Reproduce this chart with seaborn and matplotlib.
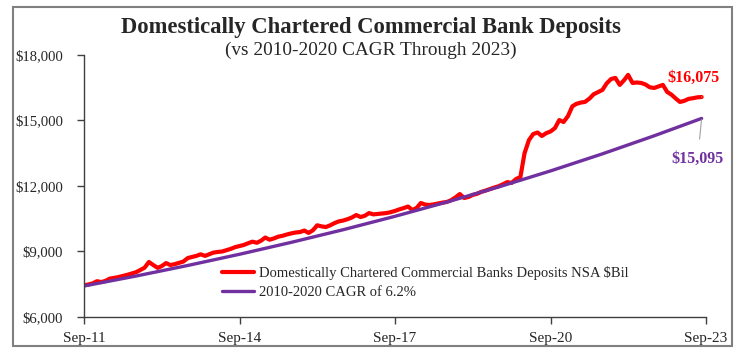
import numpy as np
import pandas as pd
import matplotlib
matplotlib.use("Agg")
import matplotlib.pyplot as plt
import matplotlib.dates as mdates
import matplotlib.ticker as mticker
from matplotlib.patches import Rectangle
import seaborn as sns

# monthly readings, Sep-2011 .. Aug-2023 ($Bil)
dep_dates = pd.date_range("2011-09-01", "2023-08-01", freq="MS")
deposits = [
    7450, 7490, 7540, 7640, 7600, 7660, 7760, 7790, 7830, 7880, 7930, 7990,
    8050, 8150, 8260, 8520, 8380, 8250, 8330, 8470, 8380, 8420, 8480, 8540,
    8700, 8750, 8800, 8870, 8800, 8880, 8950, 8980, 9000, 9060, 9120, 9200,
    9250, 9300, 9380, 9450, 9400, 9500, 9640, 9540, 9600, 9680, 9720, 9780,
    9830, 9870, 9890, 9960, 9850, 9980, 10200, 10150, 10120, 10200, 10300, 10380,
    10420, 10480, 10560, 10670, 10580, 10640, 10760, 10700, 10720, 10740, 10760, 10800,
    10860, 10930, 10990, 11060, 10900, 11000, 11220, 11150, 11130, 11160, 11200, 11240,
    11270, 11350, 11480, 11630, 11450, 11500, 11590, 11640, 11730, 11790, 11860, 11930,
    11990, 12080, 12180, 12140, 12320, 12410, 13500, 14100, 14380, 14450, 14290, 14420,
    14500, 14650, 15020, 14930, 15200, 15650, 15760, 15820, 15850, 16000, 16200, 16300,
    16400, 16700, 16900, 16950, 16630, 16850, 17090, 16720, 16740, 16720, 16650, 16520,
    16490, 16560, 16630, 16310, 16180, 16000, 15850, 15900, 15990, 16020, 16060, 16075,
]

# 2010-2020 CAGR trend line, read at each September
cagr_dates = pd.to_datetime([
    "2011-09-01", "2012-09-01", "2013-09-01", "2014-09-01", "2015-09-01",
    "2016-09-01", "2017-09-01", "2018-09-01", "2019-09-01", "2020-09-01",
    "2021-09-01", "2022-09-01", "2023-08-01",
])
cagr_line = [7420, 7876, 8360, 8874, 9420, 9999, 10613, 11265, 11957, 12692,
             13472, 14300, 15095]

dep_label = "Domestically Chartered Commercial Banks Deposits NSA $Bil"
cagr_label = "2010-2020 CAGR of 6.2%"

df_dep = pd.DataFrame({"date": dep_dates, "value": deposits})
df_cagr = pd.DataFrame({"date": cagr_dates, "value": cagr_line})

sns.set_style("white")
serif = ["Liberation Serif", "DejaVu Serif"]
plt.rcParams["font.family"] = serif

RED = "#FF0000"
PURPLE = "#7030A0"

fig = plt.figure(figsize=(7.41, 3.62), dpi=100)
ax = fig.add_axes([0.1134, 0.1243, 0.8394, 0.7238])

sns.lineplot(data=df_dep, x="date", y="value", color=RED, lw=3.0, ax=ax, label=dep_label)
sns.lineplot(data=df_cagr, x="date", y="value", color=PURPLE, lw=2.4, ax=ax, label=cagr_label)

ax.set_xlim(pd.Timestamp("2011-09-01"), pd.Timestamp("2023-09-01"))
ax.set_ylim(6000, 18000)
ax.set_yticks(np.arange(6000, 18001, 3000))
ax.yaxis.set_major_formatter(mticker.FuncFormatter(lambda v, p: f"${v:,.0f}"))
ax.set_xticks(pd.to_datetime(["2011-09-01", "2014-09-01", "2017-09-01",
                              "2020-09-01", "2023-09-01"]))
ax.xaxis.set_major_formatter(mdates.DateFormatter("%b-%y"))
ax.set_xlabel("")
ax.set_ylabel("")
for s in ["top", "right"]:
    ax.spines[s].set_visible(False)
for s in ["left", "bottom"]:
    ax.spines[s].set_color("#404040")
    ax.spines[s].set_linewidth(1.0)
ax.tick_params(axis="both", direction="out", length=5, width=1, color="#404040",
               labelsize=11, left=True, bottom=True)
ax.tick_params(axis="y", pad=10, labelsize=10.6)
ax.tick_params(axis="x", pad=6)

leg = ax.legend(loc="lower left", bbox_to_anchor=(0.2, 0.02), frameon=False,
                fontsize=10.5, handlelength=2.2, handletextpad=0.4, labelspacing=0.35)

# end labels with leader lines
ax.annotate("$16,075", xy=(dep_dates[-1], deposits[-1]), xytext=(pd.Timestamp("2022-12-01"), 16950),
            color=RED, fontsize=11.5, fontweight="bold", ha="left", va="center",
            arrowprops=dict(arrowstyle="-", color="#A0A0A0", lw=0.8, shrinkA=6, shrinkB=1))
ax.annotate("$15,095", xy=(cagr_dates[-1], cagr_line[-1]), xytext=(pd.Timestamp("2023-01-01"), 13250),
            color=PURPLE, fontsize=11.5, fontweight="bold", ha="left", va="center",
            arrowprops=dict(arrowstyle="-", color="#A0A0A0", lw=0.8, shrinkA=6, shrinkB=1))

fig.text(0.5, 0.925, "Domestically Chartered Commercial Bank Deposits", ha="center", va="center",
         fontsize=16.3, fontweight="bold")
fig.text(0.5, 0.862, "(vs 2010-2020 CAGR Through 2023)", ha="center", va="center", fontsize=13.9)

fig.patches.append(Rectangle((13 / 741, 1 - 346 / 362), 719 / 741, 339 / 362,
                             transform=fig.transFigure, fill=False, edgecolor="#808080", lw=1.5))

fig.savefig("out.png", dpi=100)
